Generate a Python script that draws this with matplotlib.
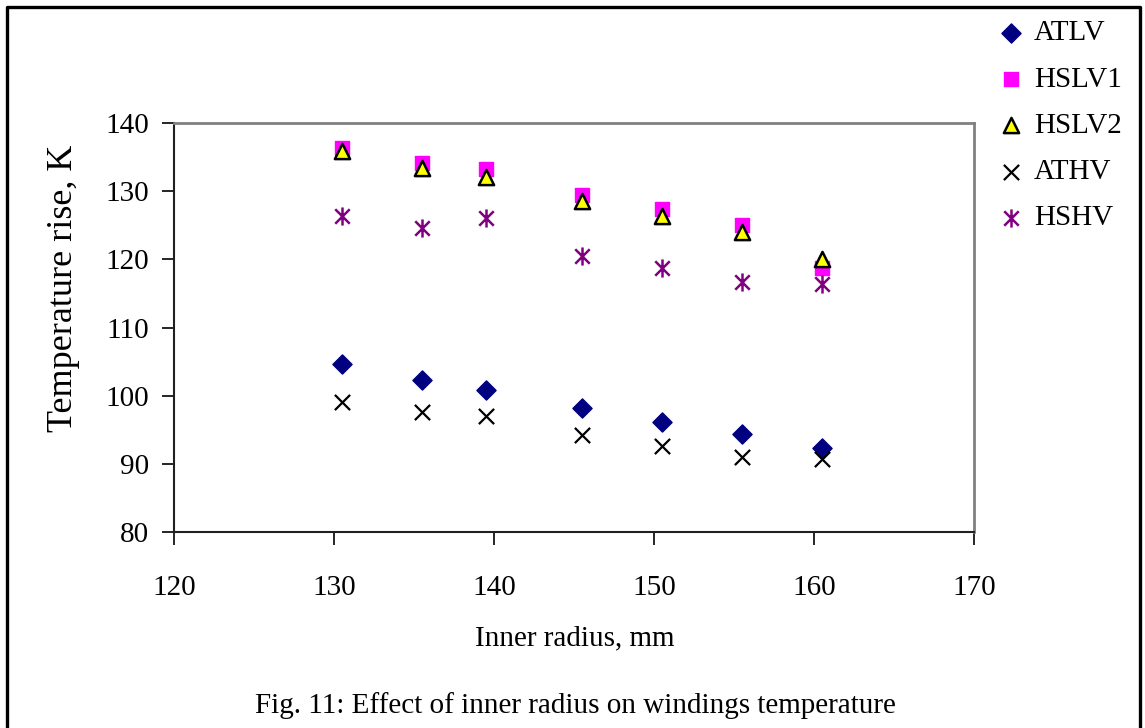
import matplotlib
matplotlib.use("Agg")
import matplotlib.pyplot as plt
from matplotlib.path import Path
from matplotlib.lines import Line2D

plt.rcParams['font.family'] = ['Liberation Serif', 'DejaVu Serif']

radius = [130.5, 135.5, 139.5, 145.5, 150.5, 155.5, 160.5]
atlv = [104.6, 102.3, 100.8, 98.2, 96.1, 94.4, 92.3]
hslv1 = [136.3, 134.2, 133.2, 129.4, 127.4, 125.0, 118.8]
hslv2 = [135.9, 133.4, 132.1, 128.6, 126.4, 124.0, 120.1]
athv = [99.1, 97.6, 97.0, 94.2, 92.6, 91.0, 90.7]
hshv = [126.4, 124.6, 126.0, 120.5, 118.7, 116.7, 116.4]

xticks = [120, 130, 140, 150, 160, 170]
yticks = [80, 90, 100, 110, 120, 130, 140]

star = Path([(-1, -1), (1, 1), (-1, 1), (1, -1), (0, -1.25), (0, 1.25)],
            [Path.MOVETO, Path.LINETO, Path.MOVETO, Path.LINETO, Path.MOVETO, Path.LINETO])

fig = plt.figure(figsize=(11.45, 7.28), dpi=100)
ax = fig.add_axes([174/1145, 1-532/728, 800/1145, 409/728])

ax.scatter(radius, atlv, marker='D', s=95, color='#000080', label='ATLV', zorder=3)
ax.scatter(radius, hslv1, marker='s', s=110, color='#FF00FF', label='HSLV1', zorder=3)
ax.scatter(radius, hslv2, marker='^', s=120, facecolor='#FFFF00', edgecolor='black', linewidth=1.8, label='HSLV2', zorder=3)
ax.scatter(radius, athv, marker='x', s=120, color='black', linewidth=1.6, label='ATHV', zorder=3)
ax.scatter(radius, hshv, marker=star, s=170, color='#800080', linewidth=1.8, label='HSHV', zorder=3)

ax.set_xlim(120, 170)
ax.set_ylim(80, 140)
ax.set_xticks(xticks)
ax.set_yticks(yticks)
ax.tick_params(direction='out', length=9, width=1.2, labelsize=21, pad=9, colors='black')
ax.tick_params(axis='x', pad=22)
for s in ['top', 'right']:
    ax.spines[s].set_color('#808080')
    ax.spines[s].set_linewidth(2)
for s in ['left', 'bottom']:
    ax.spines[s].set_color('#202020')
    ax.spines[s].set_linewidth(1.5)

fig.text(575/1145, 1-638/728, 'Inner radius, mm', fontsize=21, ha='center', va='center')
fig.text(64/1145, 1-288/728, 'Temperature rise, K', fontsize=26, ha='center', va='center', rotation=90)
fig.text(575/1145, 1-706/728, 'Fig. 11: Effect of inner radius on windings temperature', fontsize=21, ha='center', va='center')

fig.legend(loc='upper left', bbox_to_anchor=(996/1145, 1-20/728), frameon=False, fontsize=21,
           handletextpad=0.3, labelspacing=0.68, borderaxespad=0, handlelength=1.0, borderpad=0)

fig.add_artist(Line2D([7/1145, 7/1145, 1140/1145, 1140/1145], [0, 1-7/728, 1-7/728, 0],
                      transform=fig.transFigure, color='black', linewidth=2.4))

fig.savefig('out.png', dpi=100)
